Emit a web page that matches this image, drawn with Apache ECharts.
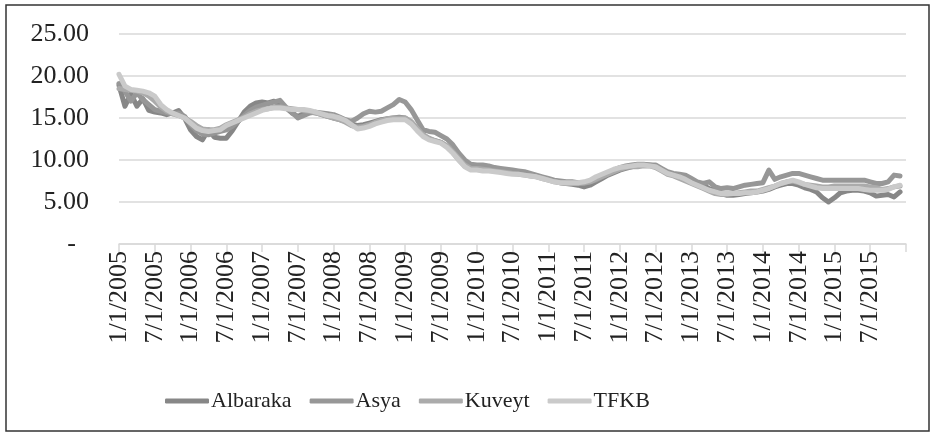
<!DOCTYPE html>
<html>
<head>
<meta charset="utf-8">
<script src="https://cdn.jsdelivr.net/npm/echarts@6/dist/echarts.min.js"></script>
<style>
    html, body { margin: 0; padding: 0; background: #fff; }
    #chart { width: 934px; height: 435px; }
</style>
</head>
<body>
<div id="chart"></div>
<script>
// 月度数据 2005-01 .. 2015-12, 最后一个类目(1/1/2016)只用于轴的末端刻度
const months = [];
for (let y = 2005; y <= 2015; y++) {
    for (let m = 1; m <= 12; m++) months.push(m + '/1/' + y);
}
months.push('1/1/2016');

const seriesNames = ['Albaraka', 'Asya', 'Kuveyt', 'TFKB'];
const seriesColors = ['#878787', '#979797', '#ababab', '#cacaca'];

const albaraka = [
    18.9, 16.4, 17.9, 16.4, 17.3, 15.9, 15.7, 15.6, 15.4, 15.6, 15.9, 15.0,
    13.6, 12.8, 12.4, 13.6, 12.7, 12.6, 12.6, 13.5, 14.6, 15.7, 16.4, 16.8,
    16.9, 16.8, 17.0, 16.6, 16.2, 15.6, 15.2, 15.5, 15.7, 15.6, 15.4, 15.2,
    15.0, 14.8, 14.6, 14.3, 14.1, 14.2, 14.4, 14.6, 14.8, 14.9, 15.0, 15.1,
    15.0, 14.5, 13.7, 13.0, 12.5, 12.3, 12.1, 11.6, 10.9, 10.0, 9.3, 9.0,
    9.0, 8.9, 8.8, 8.8, 8.7, 8.6, 8.5, 8.4, 8.3, 8.2, 8.1, 7.9,
    7.7, 7.5, 7.3, 7.2, 7.1, 7.0, 6.8, 7.0, 7.4, 7.8, 8.2, 8.5,
    8.8, 9.0, 9.2, 9.3, 9.4, 9.4, 9.3, 8.9, 8.5, 8.3, 8.2, 8.0,
    7.6, 7.3, 7.0, 6.6, 6.4, 6.0, 5.8, 5.8, 5.9, 6.0, 6.1, 6.2,
    6.3, 6.5, 6.8, 7.0, 7.2, 7.2, 7.0, 6.7, 6.5, 6.2, 5.5, 5.0,
    5.5, 6.1, 6.3, 6.4, 6.4, 6.3, 6.1, 5.7, 5.8, 5.9, 5.6, 6.2
];
const asya = [
    19.1, 18.2, 17.0, 18.0, 17.2, 16.6, 16.0, 15.8, 15.6, 15.5, 15.6, 15.2,
    14.2, 13.5, 13.1, 13.0, 13.2, 13.4, 13.6, 14.0, 14.6, 15.3, 15.9, 16.3,
    16.5, 16.7, 16.9, 17.1, 16.3, 15.7, 15.0, 15.3, 15.6, 15.7, 15.6, 15.5,
    15.4, 15.1, 14.8, 14.6, 15.0, 15.5, 15.8, 15.7, 15.8, 16.2, 16.6, 17.2,
    16.9, 16.0, 14.8, 13.6, 13.4, 13.3, 12.9, 12.5, 11.8, 10.8, 10.0, 9.5,
    9.4, 9.4, 9.3, 9.1, 9.0, 8.9, 8.8, 8.7, 8.6, 8.4, 8.2, 8.0,
    7.8, 7.6, 7.5, 7.4, 7.4, 7.3, 7.2, 7.4, 7.6, 8.0, 8.4, 8.8,
    9.1, 9.3, 9.4, 9.5, 9.5, 9.4, 9.4, 9.0, 8.6, 8.4, 8.3, 8.2,
    7.8, 7.4, 7.2, 7.4, 6.8, 6.6, 6.7, 6.6, 6.8, 7.0, 7.1, 7.2,
    7.3, 8.8, 7.7, 8.0, 8.2, 8.4, 8.4, 8.2, 8.0, 7.8, 7.6, 7.6,
    7.6, 7.6, 7.6, 7.6, 7.6, 7.6, 7.4, 7.2, 7.2, 7.4, 8.2, 8.1
];
const kuveyt = [
    18.5, 18.4, 18.3, 18.2, 18.0, 17.6, 17.0, 16.3, 15.8, 15.5, 15.3, 15.0,
    14.6, 14.1, 13.7, 13.6, 13.6, 13.8, 14.2, 14.5, 14.8, 15.1, 15.5, 15.8,
    16.0, 16.1, 16.3, 16.3, 16.2, 16.1, 16.0, 15.9, 15.8, 15.6, 15.4, 15.2,
    15.0, 14.8, 14.5, 14.1, 13.9, 14.0, 14.2, 14.5, 14.7, 14.9, 15.0, 15.0,
    15.0, 14.6, 13.8, 13.0, 12.6, 12.3, 12.1, 11.7, 11.0, 10.2, 9.4, 9.0,
    9.0, 8.9, 8.8, 8.7, 8.6, 8.5, 8.4, 8.3, 8.2, 8.1, 8.0, 7.8,
    7.6, 7.4, 7.3, 7.2, 7.2, 7.2, 7.3, 7.4, 7.7, 8.0, 8.3, 8.6,
    8.9, 9.1, 9.2, 9.2, 9.3, 9.3, 9.1, 8.7, 8.3, 8.1, 7.8, 7.5,
    7.2, 6.9, 6.6, 6.3, 6.0, 5.9, 5.9, 6.0, 6.1, 6.2, 6.3, 6.3,
    6.5, 6.7, 6.9, 7.2, 7.4, 7.5, 7.3, 7.1, 7.0, 6.9, 6.8, 6.8,
    6.9, 6.9, 6.9, 6.9, 6.9, 6.9, 6.8, 6.7, 6.5, 6.6, 6.8, 6.9
];
const tfkb = [
    20.2, 18.8, 18.4, 18.3, 18.2, 18.0, 17.6, 16.6, 16.0, 15.6, 15.3, 15.0,
    14.4, 13.8, 13.5, 13.4, 13.5, 13.6, 14.1, 14.4, 14.7, 15.0, 15.3, 15.6,
    15.9, 16.1, 16.2, 16.2, 16.1, 16.0, 16.0, 16.0, 15.9, 15.7, 15.5, 15.3,
    15.2, 15.0, 14.7, 14.2, 13.7, 13.8, 14.0, 14.3, 14.5, 14.7, 14.8, 14.8,
    14.8, 14.3, 13.5, 12.8, 12.4, 12.2, 12.0, 11.5, 10.8, 10.0, 9.2, 8.8,
    8.8, 8.7, 8.7, 8.6, 8.5, 8.4, 8.3, 8.3, 8.2, 8.1, 8.0, 7.8,
    7.6, 7.4, 7.3, 7.3, 7.3, 7.3, 7.4, 7.6, 8.0, 8.3, 8.6, 8.9,
    9.1, 9.2, 9.3, 9.4, 9.4, 9.3, 9.2, 8.8, 8.4, 8.2, 8.0, 7.7,
    7.3, 7.0, 6.7, 6.4, 6.2, 6.0, 6.0, 6.0, 6.0, 6.1, 6.1, 6.2,
    6.4, 6.6, 6.9, 7.2, 7.4, 7.6, 7.4, 7.1, 6.9, 6.7, 6.6, 6.6,
    6.6, 6.6, 6.6, 6.6, 6.6, 6.5, 6.4, 6.4, 6.4, 6.5, 6.8, 7.0
];
const seriesData = [albaraka, asya, kuveyt, tfkb];

const FONT = 'Liberation Serif';

const chart = echarts.init(document.getElementById('chart'), null, { renderer: 'canvas' });

const option = {
    backgroundColor: '#fff',
    animation: false,
    textStyle: { fontFamily: FONT },
    grid: { left: 119, right: 28, top: 34, bottom: 191, containLabel: false },
    graphic: [{
        type: 'rect',
        shape: { x: 6, y: 5, width: 923, height: 426 },
        style: { fill: 'none', stroke: '#333', lineWidth: 1.5 },
        silent: true
    }],
    legend: {
        data: seriesNames,
        icon: 'roundRect',
        left: 160,
        top: 385,
        itemWidth: 44,
        itemHeight: 5,
        itemGap: 18,
        textStyle: { fontFamily: FONT, fontSize: 22, color: '#222', padding: [0, 0, 0, -3] }
    },
    xAxis: {
        type: 'category',
        data: months,
        boundaryGap: false,
        axisLine: { lineStyle: { color: '#d9d9d9', width: 1.5 } },
        axisTick: { show: true, interval: 5, length: 8, lineStyle: { color: '#d9d9d9', width: 1.5 } },
        axisLabel: {
            interval: 5,
            rotate: 90,
            margin: 7,
            fontFamily: FONT,
            fontSize: 26,
            color: '#222',
            formatter: (v, idx) => (idx === months.length - 1 ? '' : v)
        },
        splitLine: { show: false }
    },
    yAxis: {
        type: 'value',
        min: 0,
        max: 25,
        interval: 5,
        axisLine: { show: false },
        axisTick: { show: false },
        axisLabel: {
            margin: 30,
            fontFamily: FONT,
            fontSize: 26,
            color: '#222',
            formatter: v => (v === 0 ? '-  ' : v.toFixed(2))
        },
        splitLine: { lineStyle: { color: '#d9d9d9', width: 1.5 } }
    },
    series: seriesNames.map((name, k) => ({
        name: name,
        type: 'line',
        data: seriesData[k],
        symbol: 'none',
        showSymbol: false,
        color: seriesColors[k],
        lineStyle: { width: 5, color: seriesColors[k], cap: 'round', join: 'round' },
        z: 2 + k
    }))
};

chart.setOption(option);
</script>
</body>
</html>
